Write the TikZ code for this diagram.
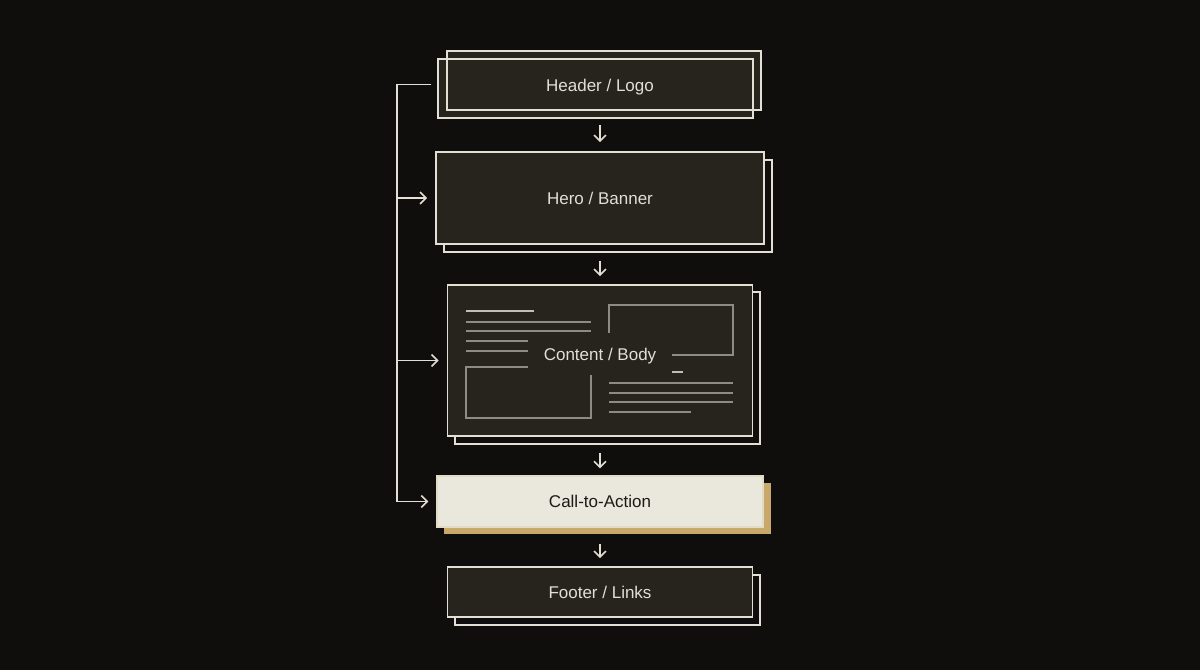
\documentclass[tikz,border=0pt]{standalone}
\usepackage{fontspec}
\setmainfont{Liberation Sans}
\usepackage{tikz}
\usetikzlibrary{positioning}
\usetikzlibrary{calc}
\usetikzlibrary{arrows.meta}

\definecolor{fondpage}{HTML}{0F0E0C}
\definecolor{fondboite}{HTML}{27231D}
\definecolor{traitclair}{HTML}{E2DFD5}
\definecolor{traitgris}{HTML}{8F8B81}
\definecolor{creme}{HTML}{EAE7DD}
\definecolor{ocre}{HTML}{C9A96B}
\definecolor{encre}{HTML}{1C1A16}

\begin{document}
\begin{tikzpicture}[x=1pt,y=-1pt]
% définition des paramètres
\tikzstyle cadremaquette=[draw=traitclair,line width=1.6pt]
\tikzstyle boitemaquette=[cadremaquette,fill=fondboite,text=traitclair,font=\fontsize{17}{20}\selectfont,inner sep=0pt]
\tikzstyle textemaquette=[text=traitclair,font=\fontsize{17}{20}\selectfont,inner sep=0pt]
\tikzstyle railmaquette=[draw=traitclair,line width=1.6pt]
\tikzstyle flechemaquette=[railmaquette,-{Straight Barb[length=6pt,width=12pt]}]
\tikzstyle lignemaquette=[draw=traitgris,line width=1.3pt]
\newcommand{\railx}{397} % abscisse du rail de gauche
% le fond
\fill[fondpage] (0,0) rectangle (1200,670);
\useasboundingbox (0,0) rectangle (1200,670);
% l'en-tête : deux cadres qui se croisent
\fill[fondboite] (438,59) rectangle (753,118);
\fill[fondboite] (447,51) rectangle (761,110);
\draw[cadremaquette] (438,59) rectangle (753,118);
\draw[cadremaquette] (447,51) rectangle (761,110);
\node[minimum width=323,minimum height=67,inner sep=0pt,
  label={[textemaquette,yshift=-2.5pt]center:Header / Logo}] (header) at (600,84.5) {};
% la bannière
\draw[cadremaquette] (444,160) rectangle (772,252);
\node[boitemaquette,minimum width=328,minimum height=92] (hero) at (600,198) {Hero / Banner};
% le contenu
\draw[cadremaquette] (455,292) rectangle (760,444);
\node[boitemaquette,minimum width=305,minimum height=151,
  label={[textemaquette,yshift=4.5pt]center:Content / Body}] (content) at (600,360.5) {};
% les croquis dans le contenu
\draw[lignemaquette,draw=traitclair!85!black,line width=2pt] (466,311) -- (534,311);
\foreach \y in {322,331}
    \draw[lignemaquette] (466,\y) -- (591,\y);
\foreach \y in {341,351}
    \draw[lignemaquette] (466,\y) -- (528,\y);
\draw[lignemaquette] (591,375) -- (591,418) -- (466,418) -- (466,367) -- (528,367);
\draw[lignemaquette] (609,333) -- (609,305) -- (733,305) -- (733,355) -- (672,355);
\draw[lignemaquette,draw=traitclair!85!black,line width=2pt] (672,372) -- (683,372);
\foreach \y in {383,393,402}
    \draw[lignemaquette] (609,\y) -- (733,\y);
\draw[lignemaquette] (609,412) -- (691,412);
% l'appel à l'action
\fill[ocre] (444,483) rectangle (771,534);
\node[boitemaquette,fill=creme,draw=creme!80!ocre,line width=1.2pt,text=encre,minimum width=326,minimum height=51] (cta) at (600,501.5) {Call-to-Action};
% le pied de page
\draw[cadremaquette] (455,575) rectangle (760,625);
\node[boitemaquette,minimum width=305,minimum height=50] (footer) at (600,592) {Footer / Links};
% les flèches verticales
\draw[flechemaquette] ([yshift=-7pt]header.south) -- ([yshift=9pt]hero.north);
\draw[flechemaquette] ([yshift=-16pt]hero.south) -- ([yshift=8pt]content.north);
\draw[flechemaquette] ([yshift=-16pt]content.south) -- ([yshift=7pt]cta.north);
\draw[flechemaquette] ([yshift=-16pt]cta.south) -- ([yshift=8pt]footer.north);
% le rail de gauche
\coordinate (rail) at (\railx,0);
\draw[railmaquette] ([xshift=-7pt]header.west) -- (rail |- header.west) -- (rail |- cta.west);
\foreach \cible in {hero,content,cta}
    \draw[flechemaquette] (rail |- \cible.west) -- ([xshift=-8pt]\cible.west);
\end{tikzpicture}
\end{document}
